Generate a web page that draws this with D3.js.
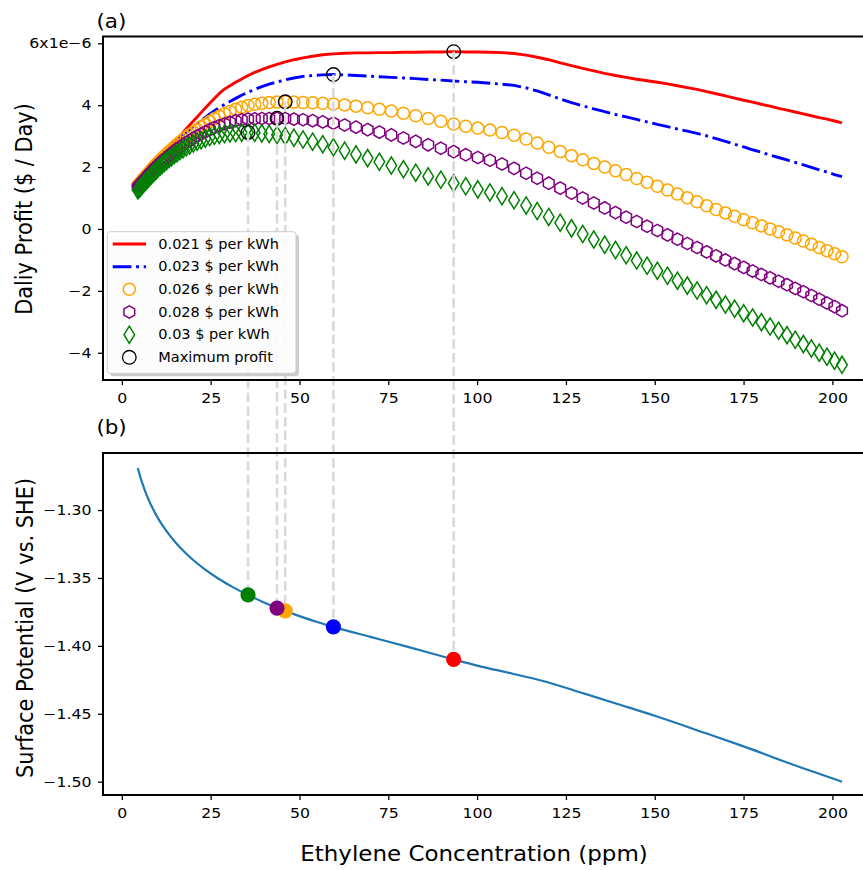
<!DOCTYPE html>
<html>
<head>
<meta charset="utf-8">
<script src="https://cdn.jsdelivr.net/npm/d3@7"></script>
<style>
  body { margin: 0; background: #fff; }
  svg { display: block; }
</style>
</head>
<body>
<svg id="chart" width="863" height="870"></svg>
<script>
// Ethylene concentration (ppm) shared by all profit series
const concentration = [
  4.50, 4.74, 4.99, 5.25, 5.53, 5.83, 6.13, 6.46, 6.80, 7.16,
  7.54, 7.94, 8.36, 8.81, 9.27, 9.77, 10.28, 10.83, 11.40, 12.01,
  12.64, 13.31, 14.02, 14.76, 15.55, 16.37, 17.24, 18.15, 19.11, 20.13,
  21.19, 22.32, 23.50, 24.75, 26.06, 27.44, 28.89, 30.43, 32.04, 33.74,
  35.52, 37.41, 39.39, 41.48, 43.68, 45.99, 48.43, 51.00, 53.70, 56.55,
  59.55, 62.71, 65.92, 69.18, 72.49, 75.85, 79.26, 82.72, 86.23, 89.79,
  93.40, 96.80, 100.20, 103.60, 107.00, 110.40, 113.80, 116.90, 120.16, 123.39,
  126.57, 129.72, 132.84, 135.91, 138.95, 141.95, 144.91, 147.84, 150.73, 153.58,
  156.39, 159.16, 161.90, 164.60, 167.27, 169.89, 172.48, 175.03, 177.54, 180.02,
  182.45, 184.85, 187.22, 189.54, 191.83, 194.08, 196.29, 198.47, 200.60, 202.70
];

// Daily profit (x1e-6 $/day) for each electricity price
const profit021 = [
  1.45, 1.48, 1.51, 1.55, 1.58, 1.62, 1.66, 1.71, 1.75, 1.80,
  1.85, 1.90, 1.96, 2.02, 2.08, 2.15, 2.22, 2.29, 2.37, 2.45,
  2.53, 2.62, 2.71, 2.80, 2.90, 3.01, 3.12, 3.24, 3.36, 3.49,
  3.62, 3.76, 3.91, 4.06, 4.22, 4.38, 4.52, 4.63, 4.74, 4.85,
  4.96, 5.06, 5.15, 5.24, 5.32, 5.40, 5.47, 5.53, 5.58, 5.63,
  5.66, 5.68, 5.69, 5.69, 5.70, 5.70, 5.71, 5.71, 5.72, 5.72,
  5.73, 5.72, 5.72, 5.71, 5.70, 5.67, 5.62, 5.55, 5.47, 5.37,
  5.28, 5.19, 5.11, 5.03, 4.96, 4.90, 4.84, 4.79, 4.74, 4.69,
  4.63, 4.57, 4.51, 4.44, 4.37, 4.30, 4.23, 4.16, 4.10, 4.03,
  3.97, 3.90, 3.84, 3.78, 3.72, 3.66, 3.60, 3.55, 3.49, 3.43
];
const profit023 = [
  1.42, 1.46, 1.50, 1.54, 1.58, 1.63, 1.67, 1.72, 1.77, 1.82,
  1.88, 1.94, 2.00, 2.06, 2.13, 2.20, 2.27, 2.34, 2.41, 2.46,
  2.52, 2.60, 2.69, 2.77, 2.86, 2.95, 3.04, 3.12, 3.21, 3.31,
  3.40, 3.50, 3.61, 3.72, 3.82, 3.92, 4.02, 4.12, 4.22, 4.32,
  4.42, 4.51, 4.60, 4.68, 4.75, 4.82, 4.88, 4.93, 4.96, 4.98,
  4.99, 4.98, 4.96, 4.94, 4.92, 4.90, 4.88, 4.86, 4.83, 4.81,
  4.78, 4.76, 4.74, 4.71, 4.68, 4.64, 4.56, 4.46, 4.33, 4.20,
  4.08, 3.98, 3.88, 3.79, 3.70, 3.62, 3.54, 3.46, 3.38, 3.31,
  3.23, 3.16, 3.09, 3.01, 2.92, 2.83, 2.74, 2.65, 2.56, 2.48,
  2.39, 2.31, 2.23, 2.15, 2.07, 1.99, 1.91, 1.84, 1.76, 1.69
];
const profit026 = [
  1.40, 1.43, 1.46, 1.50, 1.54, 1.58, 1.62, 1.66, 1.71, 1.76,
  1.81, 1.86, 1.92, 1.98, 2.04, 2.10, 2.16, 2.23, 2.29, 2.36,
  2.43, 2.50, 2.57, 2.65, 2.73, 2.81, 2.89, 2.97, 3.05, 3.13,
  3.21, 3.30, 3.38, 3.47, 3.56, 3.64, 3.72, 3.80, 3.87, 3.93,
  3.99, 4.03, 4.06, 4.09, 4.10, 4.11, 4.10, 4.09, 4.08, 4.06,
  4.04, 4.01, 3.97, 3.92, 3.87, 3.81, 3.74, 3.66, 3.57, 3.48,
  3.39, 3.32, 3.26, 3.20, 3.12, 3.03, 2.91, 2.78, 2.64, 2.50,
  2.37, 2.24, 2.12, 2.00, 1.88, 1.76, 1.63, 1.51, 1.38, 1.26,
  1.13, 1.01, 0.88, 0.75, 0.63, 0.52, 0.41, 0.30, 0.20, 0.10,
  0.00, -0.09, -0.19, -0.29, -0.39, -0.49, -0.60, -0.70, -0.80, -0.90
];
const profit028 = [
  1.35, 1.38, 1.41, 1.44, 1.48, 1.52, 1.56, 1.60, 1.64, 1.69,
  1.74, 1.79, 1.84, 1.90, 1.95, 2.01, 2.07, 2.13, 2.19, 2.25,
  2.31, 2.38, 2.44, 2.51, 2.58, 2.65, 2.72, 2.79, 2.86, 2.93,
  3.00, 3.07, 3.14, 3.21, 3.28, 3.34, 3.40, 3.45, 3.50, 3.53,
  3.55, 3.56, 3.57, 3.57, 3.58, 3.57, 3.55, 3.53, 3.50, 3.46,
  3.42, 3.36, 3.29, 3.21, 3.13, 3.04, 2.94, 2.83, 2.72, 2.61,
  2.50, 2.40, 2.31, 2.22, 2.10, 1.96, 1.80, 1.64, 1.48, 1.32,
  1.16, 1.00, 0.84, 0.68, 0.53, 0.38, 0.24, 0.09, -0.05, -0.19,
  -0.33, -0.47, -0.60, -0.74, -0.87, -1.00, -1.12, -1.24, -1.36, -1.47,
  -1.58, -1.69, -1.80, -1.92, -2.03, -2.15, -2.27, -2.39, -2.51, -2.64
];
const profit030 = [
  1.25, 1.28, 1.31, 1.34, 1.38, 1.42, 1.46, 1.50, 1.54, 1.59,
  1.64, 1.69, 1.74, 1.79, 1.84, 1.90, 1.96, 2.02, 2.08, 2.14,
  2.20, 2.26, 2.32, 2.39, 2.45, 2.52, 2.58, 2.64, 2.70, 2.76,
  2.82, 2.87, 2.92, 2.97, 3.01, 3.04, 3.07, 3.09, 3.10, 3.11,
  3.12, 3.11, 3.09, 3.07, 3.04, 3.00, 2.95, 2.89, 2.82, 2.74,
  2.64, 2.53, 2.41, 2.29, 2.17, 2.05, 1.93, 1.82, 1.70, 1.59,
  1.48, 1.38, 1.28, 1.18, 1.06, 0.93, 0.76, 0.58, 0.39, 0.20,
  0.02, -0.16, -0.34, -0.51, -0.68, -0.85, -1.02, -1.19, -1.35, -1.51,
  -1.67, -1.83, -1.99, -2.14, -2.29, -2.44, -2.58, -2.72, -2.86, -3.01,
  -3.15, -3.29, -3.43, -3.58, -3.72, -3.86, -4.00, -4.13, -4.26, -4.39
];

// Surface potential (V vs. SHE) against concentration
const potentialConc = [
  4.5, 5.0, 5.5, 6.0, 6.5, 7.5, 8.5, 10, 11.5, 13, 15, 17.5, 20, 23, 27, 31, 35,
  40, 45, 50, 55, 60, 70, 80, 93.4, 100, 110, 118, 130, 140, 150, 164, 175, 190, 202.7
];
const potentialValues = [
  -1.2690, -1.2738, -1.2781, -1.2820, -1.2857, -1.2921, -1.2978, -1.3052, -1.3115,
  -1.3170, -1.3235, -1.3305, -1.3366, -1.3429, -1.3502, -1.3564, -1.3619,
  -1.3680, -1.3733, -1.3781, -1.3824, -1.3864, -1.3934, -1.4004, -1.4100,
  -1.4145, -1.4205, -1.4255, -1.4350, -1.4432, -1.4515, -1.4640, -1.4740, -1.4885, -1.5000
];

// Maximum-profit operating points: red, blue, orange, purple, green
const maxColors = ["red", "blue", "orange", "purple", "green"];
const maxConc = [93.40, 59.55, 45.99, 43.68, 35.52];
const maxProfit = [5.73, 4.99, 4.11, 3.58, 3.12];
const maxPotential = [-1.4100, -1.3860, -1.3742, -1.3722, -1.3625];

// Ticks and labels
const xTicks = [0, 25, 50, 75, 100, 125, 150, 175, 200];
const profitTicks = [-4, -2, 0, 2, 4, 6];
const profitTickLabels = ["\u22124", "\u22122", "0", "2", "4", "6x1e\u22126"];
const potentialTicks = [-1.50, -1.45, -1.40, -1.35, -1.30];
const legendLabels = [
  "0.021 $ per kWh", "0.023 $ per kWh", "0.026 $ per kWh",
  "0.028 $ per kWh", "0.03 $ per kWh", "Maximum profit"
];

const FONT = "'DejaVu Sans', sans-serif";
const SX = 1.1;   // horizontal text stretch of the figure
const svg = d3.select("#chart");

const x = d3.scaleLinear().domain([-5.3, 212.3]).range([103, 876.1]);
const yTop = d3.scaleLinear().domain([-4.88, 6.22]).range([380, 36.5]);
const yBot = d3.scaleLinear().domain([-1.5098, -1.258]).range([795, 453]);

const defs = svg.append("defs");
defs.append("clipPath").attr("id", "clipTop")
  .append("rect").attr("x", 103).attr("y", 36.5).attr("width", 773).attr("height", 343.5);
defs.append("clipPath").attr("id", "clipBot")
  .append("rect").attr("x", 103).attr("y", 453).attr("width", 773).attr("height", 342);

// marker shapes
const hexPath = r => {
  const pts = d3.range(6).map(k => {
    const a = Math.PI / 2 + k * Math.PI / 3;
    return [r * Math.cos(a), -r * Math.sin(a)];
  });
  return "M" + pts.map(p => p.join(",")).join("L") + "Z";
};
const diamondPath = (hw, hh) => `M0,${-hh}L${hw},0L0,${hh}L${-hw},0Z`;

const TICK_FS = 14.3;
function styleBottomAxis(g) {
  g.select(".domain").remove();
  g.selectAll(".tick line").attr("stroke", "#000").attr("stroke-width", 1.3);
  g.selectAll(".tick text").attr("fill", "#000").attr("font-size", TICK_FS)
    .attr("font-family", FONT).attr("transform", `scale(${SX},1)`);
}
function styleLeftAxis(g) {
  g.select(".domain").remove();
  g.selectAll(".tick line").attr("stroke", "#000").attr("stroke-width", 1.3);
  g.selectAll(".tick text").attr("fill", "#000").attr("font-size", TICK_FS)
    .attr("font-family", FONT).attr("x", -11.5 / SX).attr("transform", `scale(${SX},1)`);
}

// ---------- panel (a): daily profit ----------
const gTop = svg.append("g");
const plotTop = gTop.append("g").attr("clip-path", "url(#clipTop)");

const line = yS => d3.line().x((d, i) => x(concentration[i])).y(d => yS(d));

plotTop.append("path").datum(profit021)
  .attr("d", line(yTop)).attr("fill", "none").attr("stroke", "red").attr("stroke-width", 2.9)
  .attr("stroke-linejoin", "round");
plotTop.append("path").datum(profit023)
  .attr("d", line(yTop)).attr("fill", "none").attr("stroke", "blue").attr("stroke-width", 2.9)
  .attr("stroke-dasharray", "18.7,4.7,2.9,4.7");

plotTop.append("g").selectAll("circle").data(profit026).join("circle")
  .attr("cx", (d, i) => x(concentration[i])).attr("cy", d => yTop(d)).attr("r", 6)
  .attr("fill", "none").attr("stroke", "orange").attr("stroke-width", 1.5);
plotTop.append("g").selectAll("path").data(profit028).join("path")
  .attr("transform", (d, i) => `translate(${x(concentration[i])},${yTop(d)})`)
  .attr("d", hexPath(6.2)).attr("fill", "none").attr("stroke", "purple").attr("stroke-width", 1.5);
plotTop.append("g").selectAll("path").data(profit030).join("path")
  .attr("transform", (d, i) => `translate(${x(concentration[i])},${yTop(d)})`)
  .attr("d", diamondPath(5.3, 8.6)).attr("fill", "none").attr("stroke", "green").attr("stroke-width", 1.5);

plotTop.append("g").selectAll("circle").data(maxProfit).join("circle")
  .attr("cx", (d, i) => x(maxConc[i])).attr("cy", d => yTop(d)).attr("r", 6.8)
  .attr("fill", "none").attr("stroke", "#000").attr("stroke-width", 1.3);

// axes for (a)
gTop.append("g").attr("transform", "translate(0,380)")
  .call(d3.axisBottom(x).tickValues(xTicks).tickSize(5).tickPadding(8).tickSizeOuter(0))
  .call(styleBottomAxis);
gTop.append("g").attr("transform", "translate(103,0)")
  .call(d3.axisLeft(yTop).tickValues(profitTicks).tickFormat((d, i) => profitTickLabels[i])
    .tickSize(5).tickPadding(6.5).tickSizeOuter(0))
  .call(styleLeftAxis);

// ---------- panel (b): surface potential ----------
const gBot = svg.append("g");
const plotBot = gBot.append("g").attr("clip-path", "url(#clipBot)");
plotBot.append("path").datum(potentialValues)
  .attr("d", d3.line().x((d, i) => x(potentialConc[i])).y(d => yBot(d)).curve(d3.curveMonotoneX))
  .attr("fill", "none").attr("stroke", "#1f77b4").attr("stroke-width", 2.2);

gBot.append("g").attr("transform", "translate(0,795)")
  .call(d3.axisBottom(x).tickValues(xTicks).tickSize(5).tickPadding(8).tickSizeOuter(0))
  .call(styleBottomAxis);
gBot.append("g").attr("transform", "translate(103,0)")
  .call(d3.axisLeft(yBot).tickValues(potentialTicks).tickFormat(d => d3.format(".2f")(d).replace("-", "\u2212"))
    .tickSize(5).tickPadding(6.5).tickSizeOuter(0))
  .call(styleLeftAxis);

// ---------- connectors from each maximum down to the potential curve ----------
svg.append("g").selectAll("line").data(maxConc).join("line")
  .attr("x1", d => x(d)).attr("x2", d => x(d))
  .attr("y1", (d, i) => yTop(maxProfit[i])).attr("y2", (d, i) => yBot(maxPotential[i]))
  .attr("stroke", "#d9d9d9").attr("stroke-width", 2.6).attr("stroke-dasharray", "9.5,4.2");

svg.append("g").selectAll("circle").data(maxConc).join("circle")
  .attr("cx", d => x(d)).attr("cy", (d, i) => yBot(maxPotential[i])).attr("r", 7.6)
  .attr("fill", (d, i) => maxColors[i]);

// spines
[[36.5, 380], [453, 795]].forEach(([t, b]) => {
  svg.append("rect").attr("x", 103).attr("y", t).attr("width", 773).attr("height", b - t)
    .attr("fill", "none").attr("stroke", "#000").attr("stroke-width", 2);
});

// ---------- legend ----------
const lg = svg.append("g");
lg.append("rect").attr("x", 110.3).attr("y", 234.7).attr("width", 188.7).attr("height", 141.6)
  .attr("rx", 3).attr("fill", "#000").attr("opacity", 0.2);
lg.append("rect").attr("x", 107.3).attr("y", 231.7).attr("width", 188.7).attr("height", 141.6)
  .attr("rx", 3).attr("fill", "#fff").attr("fill-opacity", 0.93).attr("stroke", "#cccccc").attr("stroke-width", 1);
const rowY = [244, 266.7, 289.3, 312, 334.7, 357.3];
const hx0 = 112.7, hx1 = 146, hxc = 129.3;
lg.append("line").attr("x1", hx0).attr("x2", hx1).attr("y1", rowY[0]).attr("y2", rowY[0])
  .attr("stroke", "red").attr("stroke-width", 2.9);
lg.append("line").attr("x1", hx0).attr("x2", hx1).attr("y1", rowY[1]).attr("y2", rowY[1])
  .attr("stroke", "blue").attr("stroke-width", 2.9).attr("stroke-dasharray", "18.7,4.7,2.9,4.7");
lg.append("circle").attr("cx", hxc).attr("cy", rowY[2]).attr("r", 6)
  .attr("fill", "none").attr("stroke", "orange").attr("stroke-width", 1.5);
lg.append("path").attr("transform", `translate(${hxc},${rowY[3]})`).attr("d", hexPath(6.2))
  .attr("fill", "none").attr("stroke", "purple").attr("stroke-width", 1.5);
lg.append("path").attr("transform", `translate(${hxc},${rowY[4]})`).attr("d", diamondPath(5.3, 8.6))
  .attr("fill", "none").attr("stroke", "green").attr("stroke-width", 1.5);
lg.append("circle").attr("cx", hxc).attr("cy", rowY[5]).attr("r", 6.8)
  .attr("fill", "none").attr("stroke", "#000").attr("stroke-width", 1.3);
lg.selectAll("text").data(legendLabels).join("text")
  .attr("transform", (d, i) => `translate(158.3,${rowY[i]}) scale(${SX},1)`).attr("dy", "0.36em")
  .attr("font-family", FONT).attr("font-size", 13.2).attr("fill", "#000")
  .text(d => d);

// ---------- titles and axis labels ----------
const txt = (s, transform, size, anchor) => svg.append("text")
  .attr("transform", transform).attr("font-family", FONT).attr("font-size", size)
  .attr("fill", "#000").attr("text-anchor", anchor || "start").text(s);

txt("(a)", `translate(96.4,28) scale(${SX},1)`, 19.5);
txt("(b)", `translate(96.4,434.4) scale(${SX},1)`, 19.5);
txt("Ethylene Concentration (ppm)", `translate(474,861) scale(${SX},1)`, 20.9, "middle");
txt("Daliy Profit ($ / Day)", `translate(32,209) scale(${SX},1) rotate(-90)`, 20.9, "middle");
txt("Surface Potential (V vs. SHE)", `translate(33,628) scale(${SX},1) rotate(-90)`, 20.9, "middle");
</script>
</body>
</html>
